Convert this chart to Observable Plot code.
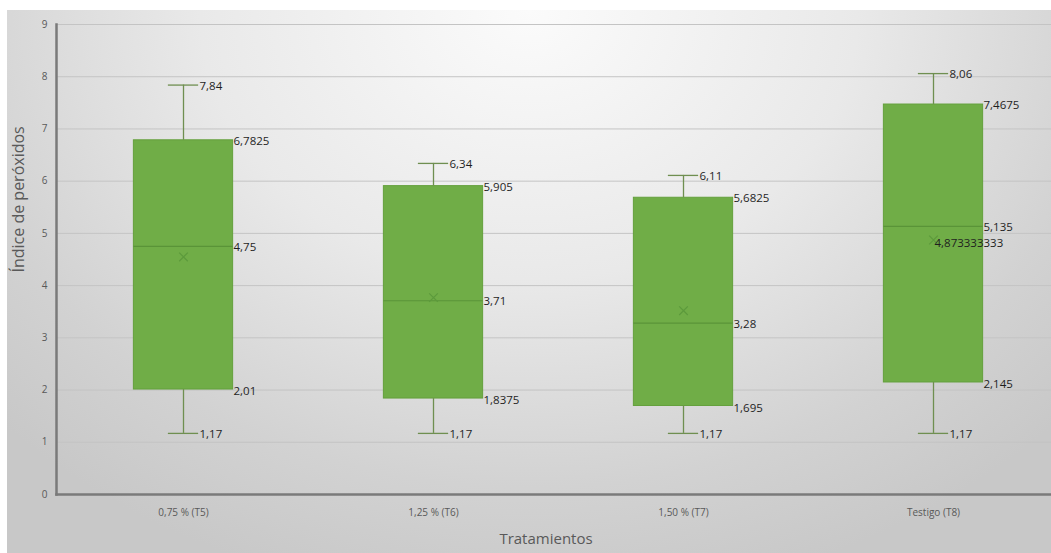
<!DOCTYPE html>
<html>
<head>
<meta charset="utf-8">
<script src="https://cdn.jsdelivr.net/npm/d3@7"></script>
<script src="https://cdn.jsdelivr.net/npm/@observablehq/plot@0.6"></script>
<style>
  html, body { margin: 0; padding: 0; background: #ffffff; }
  #wrap { position: relative; width: 1051px; height: 553px; overflow: hidden; background: #ffffff; }
  #bg { position: absolute; left: 7px; top: 10px; right: 0; bottom: 0;
        background: radial-gradient(ellipse 70% 110% at 50% 0%, #fbfbfb 0%, #e9e9e9 45%, #d2d2d2 80%, #c8c8c8 100%); }
  #chart { position: absolute; left: 0; top: 0; }
</style>
</head>
<body>
<div id="wrap"><div id="bg"></div><div id="chart"></div></div>
<script>
const categories = ["0,75 % (T5)", "1,25 % (T6)", "1,50 % (T7)", "Testigo (T8)"];
const mins    = [1.17, 1.17, 1.17, 1.17];
const q1s     = [2.01, 1.8375, 1.695, 2.145];
const medians = [4.75, 3.71, 3.28, 5.135];
const q3s     = [6.7825, 5.905, 5.6825, 7.4675];
const maxs    = [7.84, 6.34, 6.11, 8.06];
const means   = [4.55, 3.77, 3.52, 4.873333333];
const showMeanLabel = [false, false, false, true];
const yTicks = [0, 1, 2, 3, 4, 5, 6, 7, 8, 9];
const yTitle = "Índice de peróxidos";
const xTitle = "Tratamientos";

const data = categories.map((c, i) => ({
  cat: c, min: mins[i], q1: q1s[i], median: medians[i], q3: q3s[i], max: maxs[i], mean: means[i], showMean: showMeanLabel[i]
}));
const fmt = v => String(v).replace(".", ",");

const W = 1051, H = 553;
const mL = 56, mT = 24, mB = 59;
const bandW = 250.75;
const boxInset = (bandW - 100) / 2;
const capInset = (bandW - 31) / 2;

const boxFill = "#70ad47";
const boxStroke = "#64a03c";
const whisk = "#6f8f50";
const medC = "#5a9438";
const lblC = "#1f1f1f";

const chart = Plot.plot({
  width: W, height: H,
  marginLeft: mL, marginRight: 0, marginTop: mT, marginBottom: mB,
  style: { background: "transparent", color: "#595959", fontFamily: "'Open Sans', Lato, sans-serif", overflow: "visible" },
  x: { domain: categories, range: [mL, mL + 4 * bandW], padding: 0, label: null },
  y: { domain: [0, 9], label: null },
  marks: [
    Plot.ruleY(yTicks.filter(t => t > 0), { stroke: "#c4c4c4", strokeWidth: 1 }),
    Plot.axisY(yTicks, { tickSize: 0, tickPadding: 9, fontSize: 10, label: null, tickFormat: d => String(d) }),
    Plot.axisX({ tickSize: 0, tickPadding: 14, fontSize: 10, label: null }),
    Plot.rectY(data, { x: "cat", y1: "q1", y2: "q3", fill: boxFill, stroke: boxStroke, strokeWidth: 1, insetLeft: boxInset, insetRight: boxInset }),
    Plot.ruleX(data, { x: "cat", y1: "q3", y2: "max", stroke: whisk, strokeWidth: 1.3 }),
    Plot.ruleX(data, { x: "cat", y1: "min", y2: "q1", stroke: whisk, strokeWidth: 1.3 }),
    Plot.tickY(data, { x: "cat", y: "max", stroke: whisk, strokeWidth: 1.3, insetLeft: capInset, insetRight: capInset }),
    Plot.tickY(data, { x: "cat", y: "min", stroke: whisk, strokeWidth: 1.3, insetLeft: capInset, insetRight: capInset }),
    Plot.tickY(data, { x: "cat", y: "median", stroke: medC, strokeWidth: 1.2, insetLeft: boxInset, insetRight: boxInset }),
    Plot.dot(data, { x: "cat", y: "mean", symbol: "times", r: 4, stroke: "#5c9a3c", strokeWidth: 1.2 }),
    Plot.frame({ anchor: "left", stroke: "#7a7a7a", strokeWidth: 2.5 }),
    Plot.frame({ anchor: "bottom", stroke: "#7a7a7a", strokeWidth: 2.5 }),
    // labels
    Plot.text(data, { x: "cat", y: "max", text: d => fmt(d.max), textAnchor: "start", dx: 16, dy: 1, fill: lblC, fontSize: 11.5 }),
    Plot.text(data, { x: "cat", y: "min", text: d => fmt(d.min), textAnchor: "start", dx: 16, dy: 1, fill: lblC, fontSize: 11.5 }),
    Plot.text(data, { x: "cat", y: "q3", text: d => fmt(d.q3), textAnchor: "start", dx: 50, dy: 1, fill: lblC, fontSize: 11.5 }),
    Plot.text(data, { x: "cat", y: "median", text: d => fmt(d.median), textAnchor: "start", dx: 50, dy: 1, fill: lblC, fontSize: 11.5 }),
    Plot.text(data, { x: "cat", y: "q1", text: d => fmt(d.q1), textAnchor: "start", dx: 50, dy: 2, fill: lblC, fontSize: 11.5 }),
    Plot.text(data.filter(d => d.showMean), { x: "cat", y: "mean", text: d => fmt(d.mean), textAnchor: "start", dx: 1, dy: 3, fill: lblC, fontSize: 11.5 }),
    // axis titles
    Plot.text([yTitle], { frameAnchor: "left", text: d => d, rotate: -90, dx: -38, dy: 13, fontSize: 16, fill: "#595959" }),
    Plot.text([xTitle], { frameAnchor: "bottom", text: d => d, dx: -8, dy: 49, fontSize: 15, fill: "#595959" })
  ]
});
document.getElementById("chart").appendChild(chart);
</script>
</body>
</html>
